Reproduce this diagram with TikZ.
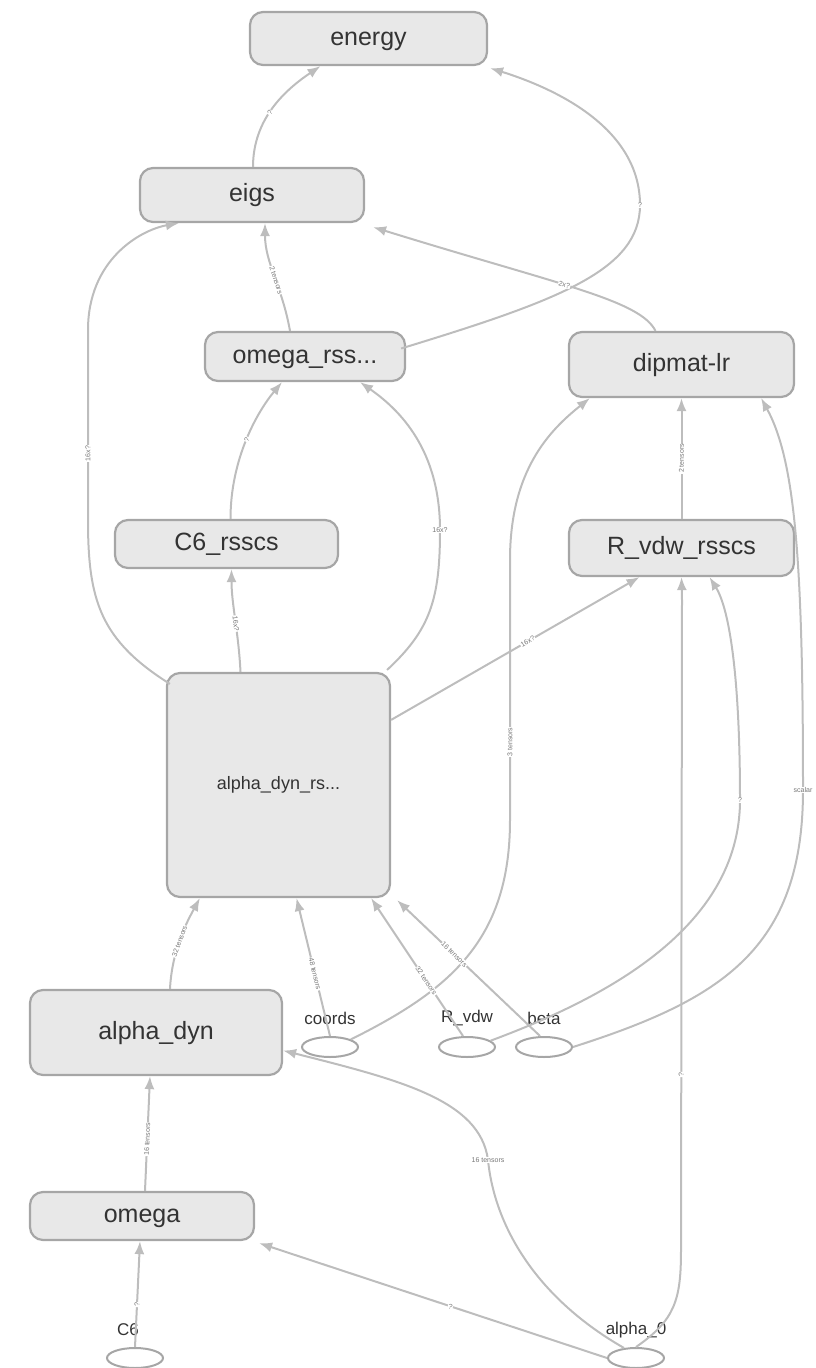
\documentclass[tikz,border=0pt]{standalone}
\usepackage{fontspec}
\setmainfont{Liberation Sans}
\usetikzlibrary{arrows.meta,shapes.geometric}
\definecolor{boxfill}{HTML}{E8E8E8}
\definecolor{boxline}{HTML}{A6A6A6}
\definecolor{edgecol}{HTML}{BDBDBD}
\definecolor{txt}{HTML}{333333}
\definecolor{lbl}{HTML}{777777}
\tikzset{
  opnode/.style={draw=boxline, fill=boxfill, line width=2.2pt, rounded corners=13pt,
    text=txt, font=\fontsize{25}{28}\selectfont, inner sep=0pt, text height=17pt, text depth=4pt},
  bignode/.style={opnode, font=\fontsize{18}{20}\selectfont, text height=12pt, text depth=3pt},
  inp/.style={draw=boxline, line width=2pt, ellipse, minimum width=56pt, minimum height=20pt, inner sep=0pt},
  inlbl/.style={text=txt, font=\fontsize{17}{19}\selectfont, inner sep=0pt},
  flow/.style={draw=edgecol, line width=2pt, -{Latex[length=13pt,width=10pt]}},
  elbl/.style={sloped, fill=white, text=lbl, font=\fontsize{7}{8}\selectfont, inner sep=0.6pt}
}
\begin{document}
\begin{tikzpicture}[x=1pt,y=-1pt]
\useasboundingbox (0,0) rectangle (816,1368);

% operation boxes
\node[opnode, minimum width=237pt, minimum height=53pt] (energy) at (368.5,38.5) {energy};
\node[opnode, minimum width=224pt, minimum height=54pt] (eigs) at (252,195) {eigs};
\node[opnode, minimum width=200pt, minimum height=49pt] (omrss) at (305,356.5) {omega\_rss...};
\node[opnode, minimum width=225pt, minimum height=65pt] (dipmat) at (681.5,364.5) {dipmat-lr};
\node[opnode, minimum width=223pt, minimum height=48pt] (c6rsscs) at (226.5,544) {C6\_rsscs};
\node[opnode, minimum width=225pt, minimum height=56pt] (rvdwrsscs) at (681.5,548) {R\_vdw\_rsscs};
\node[bignode, minimum width=223pt, minimum height=224pt] (adrs) at (278.5,785) {alpha\_dyn\_rs...};
\node[opnode, minimum width=252pt, minimum height=85pt] (adyn) at (156,1032.5) {alpha\_dyn};
\node[opnode, minimum width=224pt, minimum height=48pt] (omega) at (142,1216) {omega};

% inputs
\node[inp] (coords) at (330,1047) {};
\node[inlbl] (coordsl) at (330,1018) {coords};
\node[inp] (rvdw) at (467,1047) {};
\node[inlbl] (rvdwl) at (467,1018) {R\_vdw};
\node[inp] (beta) at (544,1047) {};
\node[inlbl] (betal) at (544,1018) {beta};
\node[inp] (c6) at (135,1358) {};
\node[inlbl] (c6l) at (128,1330) {C6};
\node[inp] (alpha0) at (636,1358) {};
\node[inlbl] (alpha0l) at (636,1330) {alpha\_0};

% connections
\draw[flow] ([xshift=1pt]eigs.north) .. controls +(0,-48) and (285,90) .. ([xshift=-48pt]energy.south)
  node[elbl, pos=0.45] {?};
\draw[flow] ([xshift=-5pt,yshift=8pt]omrss.east) .. controls (560,300) and (640,270) .. (640,205)
  node[elbl] {?} .. controls (640,130) and (560,90) .. ([xshift=2pt,yshift=-2pt]energy.south east);
\draw[flow] ([xshift=-15pt]omrss.north) .. controls +(-8,-45) and +(0,40) .. ([xshift=13pt]eigs.south)
  node[elbl, pos=0.45] {2 tensors};
\draw[flow] ([xshift=-26pt]dipmat.north) .. controls (640,300) and (560,285) .. ([xshift=8pt,yshift=-4pt]eigs.south east)
  node[elbl, pos=0.55] {2x?};
\draw[flow] ([xshift=4pt,yshift=-12pt]adrs.north west) .. controls (100,640) and (88,600) .. (88,520)
  -- (88,330) node[elbl, pos=0.35] {16x?} .. controls (88,260) and (140,230) .. ([xshift=40pt]eigs.south west);
\draw[flow] ([xshift=4pt]c6rsscs.north) .. controls +(0,-60) and +(-25,30) .. ([xshift=-23pt]omrss.south)
  node[elbl, pos=0.5] {?};
\draw[flow] ([xshift=-4pt,yshift=2pt]adrs.north east) .. controls (430,630) and (440,600) .. (440,530)
  node[elbl] {16x?} .. controls (440,450) and (400,410) .. ([xshift=55pt]omrss.south);
\draw[flow] ([xshift=-38pt]adrs.north) .. controls +(-2,-40) and +(0,35) .. ([xshift=5pt]c6rsscs.south)
  node[elbl, pos=0.45] {16x?};
\draw[flow] ([yshift=-48pt]adrs.north east) -- ([xshift=-42pt]rvdwrsscs.south)
  node[elbl, pos=0.55] {16x?};
\draw[flow] (rvdwrsscs.north) -- (dipmat.south) node[elbl, pos=0.5] {2 tensors};
\draw[flow] (coords.20) .. controls (450,990) and (510,940) .. (510,820)
  -- (510,560) node[elbl, pos=0.3] {3 tensors} .. controls (510,470) and (550,430) .. ([xshift=22pt]dipmat.south west);
\draw[flow] (beta.east) .. controls (720,1000) and (803,950) .. (803,790)
  node[elbl] {scalar} .. controls (803,560) and (795,460) .. ([xshift=-34pt]dipmat.south east);
\draw[flow] (rvdw.15) .. controls (600,1000) and (740,930) .. (740,800)
  node[elbl] {?} .. controls (740,680) and (730,610) .. ([xshift=28pt]rvdwrsscs.south);
\draw[flow] (alpha0.north) .. controls (675,1320) and (681,1300) .. (681,1250)
  -- (682,600) node[elbl, pos=0.27] {?} -- (rvdwrsscs.south);
\draw[flow] (alpha0.140) .. controls (540,1300) and (495,1230) .. (488,1160)
  node[elbl] {16 tensors} .. controls (480,1100) and (400,1080) .. ([yshift=-18pt]adyn.east);
\draw[flow] (alpha0.west) -- ([xshift=4pt,yshift=-2pt]omega.south east) node[elbl, pos=0.45] {?};
\draw[flow] (c6.north) -- ([xshift=-2pt]omega.south) node[elbl, pos=0.4] {?};
\draw[flow] ([xshift=3pt]omega.north) -- ([xshift=-6pt]adyn.south) node[elbl, pos=0.45] {16 tensors};
\draw[flow] ([xshift=14pt]adyn.north) .. controls +(2,-40) and +(-12,22) .. ([xshift=34pt]adrs.south west)
  node[elbl, pos=0.45] {32 tensors};
\draw[flow] (coords.north) -- ([xshift=18pt]adrs.south) node[elbl, pos=0.45] {48 tensors};
\draw[flow] ([xshift=-4pt]rvdw.north) -- ([xshift=-20pt]adrs.south east) node[elbl, pos=0.4] {32 tensors};
\draw[flow] ([xshift=-4pt]beta.north) -- ([xshift=6pt,yshift=-2pt]adrs.south east) node[elbl, pos=0.6] {16 tensors};
\end{tikzpicture}
\end{document}
